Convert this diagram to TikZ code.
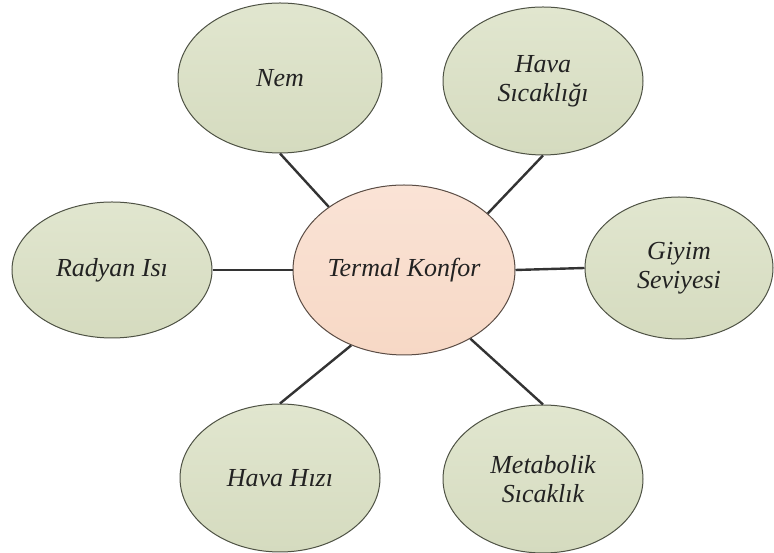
\documentclass[tikz,border=0pt]{standalone}
\usepackage{fontspec}
\setmainfont{Liberation Serif}
\usetikzlibrary{shapes.geometric}
\definecolor{leafFill}{HTML}{D5DBBF}
\definecolor{leafTop}{HTML}{E1E6CF}
\definecolor{leafEdge}{HTML}{4E5244}
\definecolor{coreFill}{HTML}{F7D8C5}
\definecolor{coreTop}{HTML}{FAE3D6}
\definecolor{coreEdge}{HTML}{5A4C44}
\definecolor{linkCol}{HTML}{333333}
\definecolor{labelCol}{HTML}{222222}
\tikzset{
  leaf/.style={ellipse, draw=leafEdge, line width=1pt, top color=leafTop, bottom color=leafFill,
    inner sep=0pt, align=center, font=\itshape\fontsize{26}{29}\selectfont, text=labelCol},
  core/.style={ellipse, draw=coreEdge, line width=1pt, top color=coreTop, bottom color=coreFill,
    inner sep=0pt, align=center, font=\itshape\fontsize{26}{29}\selectfont, text=labelCol},
  link/.style={draw=linkCol, line width=2.4pt}
}
\begin{document}
\begin{tikzpicture}[x=1pt,y=1pt]
  \useasboundingbox (0,0) rectangle (774,553);
  \fill[white] (0,0) rectangle (774,553);

  % central concept
  \node[core, minimum width=222pt, minimum height=170pt] (tk) at (404,283) {Termal Konfor};

  % surrounding factors
  \node[leaf, minimum width=204pt, minimum height=150pt] (nem) at (280,475) {Nem};
  \node[leaf, minimum width=200pt, minimum height=148pt] (hs) at (543,472) {Hava\\Sıcaklığı};
  \node[leaf, minimum width=200pt, minimum height=136pt] (ri) at (112,283) {Radyan Isı};
  \node[leaf, minimum width=188pt, minimum height=142pt] (gs) at (679,285) {Giyim\\Seviyesi};
  \node[leaf, minimum width=200pt, minimum height=148pt] (hh) at (280,75) {Hava Hızı};
  \node[leaf, minimum width=200pt, minimum height=148pt] (ms) at (543,74) {Metabolik\\Sıcaklık};

  % connectors
  \draw[link] (nem.south) -- (tk.140);
  \draw[link] (hs.south) -- (tk.34);
  \draw[link] (ri.east) -- (tk.west);
  \draw[link] (tk.east) -- (gs.west);
  \draw[link] (hh.north) -- (tk.235);
  \draw[link] (ms.north) -- (tk.314);
\end{tikzpicture}
\end{document}
